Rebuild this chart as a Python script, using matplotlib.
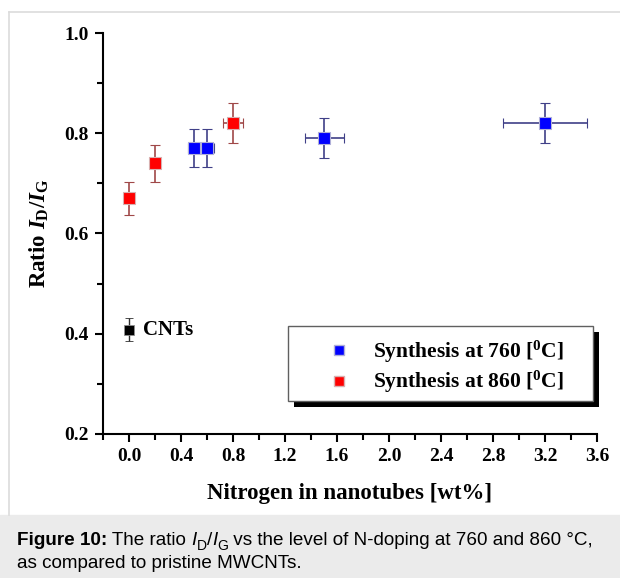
import matplotlib.pyplot as plt
from matplotlib.patches import Rectangle
from matplotlib.lines import Line2D
from matplotlib.ticker import MultipleLocator

# data
x760 = [0.5, 0.6, 1.5, 3.2]
y760 = [0.77, 0.77, 0.79, 0.82]
yerr760 = [0.038, 0.038, 0.04, 0.04]
xerr760 = [0.05, 0.05, 0.15, 0.32]

x860 = [0.0, 0.2, 0.8]
y860 = [0.67, 0.74, 0.82]
yerr860 = [0.033, 0.037, 0.04]
xerr860 = [0.0, 0.0, 0.08]

x_cnt = [0.0]
y_cnt = [0.408]
yerr_cnt = [0.023]

xtick_vals = [0.0, 0.4, 0.8, 1.2, 1.6, 2.0, 2.4, 2.8, 3.2, 3.6]
xtick_labels = ['0.0', '0.4', '0.8', '1.2', '1.6', '2.0', '2.4', '2.8', '3.2', '3.6']
legend_labels = ['Synthesis at 760 [$^\\mathrm{0}$C]', 'Synthesis at 860 [$^\\mathrm{0}$C]']

plt.rcParams['font.family'] = ['Liberation Serif', 'DejaVu Serif']
plt.rcParams['font.weight'] = 'bold'
plt.rcParams['axes.labelweight'] = 'bold'
plt.rcParams['mathtext.fontset'] = 'custom'
plt.rcParams['mathtext.rm'] = 'Liberation Serif:bold'
plt.rcParams['mathtext.it'] = 'Liberation Serif:bold:italic'
plt.rcParams['mathtext.bf'] = 'Liberation Serif:bold'

W, H = 620, 578
fig = plt.figure(figsize=(W / 100, H / 100), dpi=100)

# frame lines and caption background
fig.add_artist(Line2D([9 / W, 1], [1 - 12 / H, 1 - 12 / H], color='#dcdcdc', lw=1.2))
fig.add_artist(Line2D([9 / W, 9 / W], [1 - 12 / H, 1 - 515 / H], color='#dcdcdc', lw=1.2))
fig.add_artist(Rectangle((0, 0), 1, (H - 515) / H, color='#ebebeb', zorder=0))

ax = fig.add_axes([103 / W, 1 - 434 / H, (597 - 103) / W, (434 - 33) / H])

ax.errorbar(x860, y860, yerr=yerr860, xerr=xerr860, fmt='s', ms=8,
            mfc='#ff0000', mec='#d8b0b0', mew=0.8, ecolor='#a04848',
            elinewidth=1.2, capsize=3.5, capthick=1.2, zorder=3)
ax.errorbar(x760, y760, yerr=yerr760, xerr=xerr760, fmt='s', ms=8,
            mfc='#0000ff', mec='#b0b0d8', mew=0.8, ecolor='#404088',
            elinewidth=1.2, capsize=3.5, capthick=1.2, zorder=3)
ax.errorbar(x_cnt, y_cnt, yerr=yerr_cnt, fmt='s', ms=7,
            mfc='#000000', mec='#909090', mew=0.6, ecolor='#303030',
            elinewidth=1.0, capsize=3, capthick=1.0, zorder=3)
ax.text(x_cnt[0] + 0.11, y_cnt[0], 'CNTs', fontsize=15, va='center', ha='left')

ax.set_xlim(-0.2, 3.6)
ax.set_ylim(0.2, 1.0)
ax.set_xticks(xtick_vals)
ax.set_xticklabels(xtick_labels)
ax.xaxis.set_minor_locator(MultipleLocator(0.2))
ax.yaxis.set_major_locator(MultipleLocator(0.2))
ax.yaxis.set_minor_locator(MultipleLocator(0.1))

for s in ['top', 'right']:
    ax.spines[s].set_visible(False)
for s in ['left', 'bottom']:
    ax.spines[s].set_linewidth(1.5)
ax.tick_params(which='major', direction='out', length=6, width=1.5, labelsize=14, pad=4)
ax.tick_params(which='minor', direction='out', length=4, width=1.5)

ax.set_xlabel('Nitrogen in nanotubes [wt%]', fontsize=16.5, labelpad=13)
ax.set_ylabel('Ratio $\\mathit{I}_\\mathrm{D}/\\mathit{I}_\\mathrm{G}$', fontsize=16.5, labelpad=10)

# legend box with black drop shadow
lx0, lx1, ly0, ly1 = 288, 593, 326, 401
fig.add_artist(Rectangle(((lx0 + 6) / W, 1 - (ly1 + 6) / H), (lx1 - lx0) / W, (ly1 - ly0) / H,
                         facecolor='black', edgecolor='none', zorder=4))
fig.add_artist(Rectangle((lx0 / W, 1 - ly1 / H), (lx1 - lx0) / W, (ly1 - ly0) / H,
                         facecolor='white', edgecolor='#606060', lw=1, zorder=5))
handles = [Line2D([], [], ls='none', marker='s', ms=7, mfc='#0000ff', mec='#b0b0d8'),
           Line2D([], [], ls='none', marker='s', ms=7, mfc='#ff0000', mec='#d8b0b0')]
leg = fig.legend(handles, legend_labels, loc='center left',
                 bbox_to_anchor=(328 / W, 1 - 367 / H), borderaxespad=0, borderpad=0,
                 frameon=False, fontsize=15.5, handlelength=1.0, handletextpad=1.1,
                 labelspacing=0.2)
leg.set_zorder(6)

# caption, built from pieces so the subscripts can be placed
cap_pieces = [('Figure 10:', 'bold', 'normal', 13.6, 0),
              (' The ratio ', 'normal', 'normal', 13.6, 0),
              ('I', 'normal', 'italic', 13.6, 0),
              ('D', 'normal', 'normal', 10, -3),
              ('/', 'normal', 'normal', 13.6, 0),
              ('I', 'normal', 'italic', 13.6, 0),
              ('G', 'normal', 'normal', 10, -3),
              (' vs the level of N-doping at 760 and 860 \u00b0C,', 'normal', 'normal', 13.6, 0)]
prev = fig.text(17 / W, 1 - 549 / H, '', fontsize=13.6, family='Liberation Sans')
prev_dy = 0
for txt, wt, st, fs, dy in cap_pieces:
    prev = fig.add_artist(plt.Annotation(
        txt, xy=(1, 0), xycoords=prev, xytext=(0, dy - prev_dy), textcoords='offset points',
        va='bottom', ha='left', fontsize=fs, weight=wt, style=st,
        family='Liberation Sans', annotation_clip=False))
    prev_dy = dy
fig.text(17 / W, 1 - 563 / H, 'as compared to pristine MWCNTs.', fontsize=13.6, weight='normal',
         family='Liberation Sans', va='center')

fig.savefig('out.png', dpi=100)
